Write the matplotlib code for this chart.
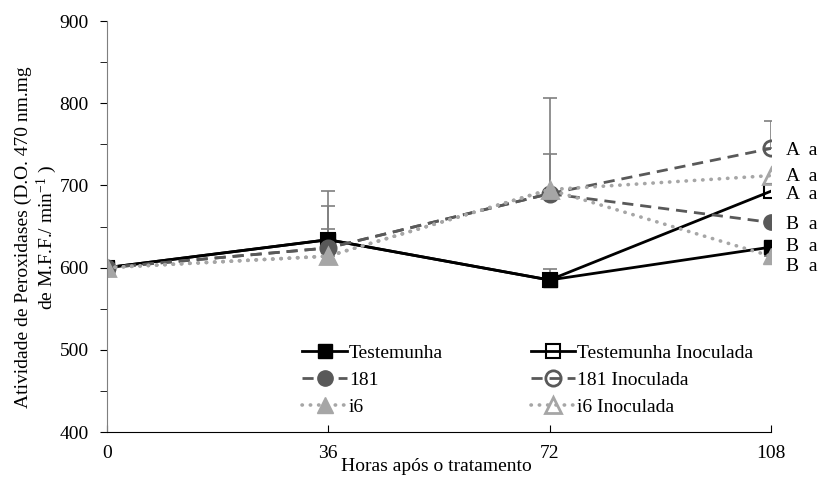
import numpy as np
import matplotlib
matplotlib.use('Agg')
import matplotlib.pyplot as plt

# data
horas = [0, 36, 72, 108]
testemunha = [600, 634, 585, 625]
s181 = [600, 624, 690, 655]
i6 = [600, 614, 695, 614]
testemunha_inoc = [600, 634, 585, 693]
s181_inoc = [600, 624, 690, 745]
i6_inoc = [600, 614, 695, 712]

# upper error bars only
err_testemunha = [0, 13, 13, 0]
err_181 = [0, 51, 48, 0]
err_i6 = [0, 79, 111, 0]
err_181_inoc = [0, 0, 0, 33]

letras = ['A  a', 'A  a', 'A  a', 'B  a', 'B  a', 'B  a']
letras_y = [743, 711, 689, 652, 626, 601]

plt.rcParams['font.family'] = ['Liberation Serif', 'DejaVu Serif']
plt.rcParams['font.size'] = 14
plt.rcParams['mathtext.fontset'] = 'custom'
plt.rcParams['mathtext.rm'] = 'Liberation Serif'
plt.rcParams['mathtext.it'] = 'Liberation Serif:italic'

PRETO = 'black'
ESCURO = '#595959'
CLARO = '#a6a6a6'


def main():
    fig = plt.figure(figsize=(8.21, 4.79), dpi=100)
    ax = fig.add_axes([0.130, 0.098, 0.809, 0.858])

    ebkw = dict(ecolor='#7f7f7f', elinewidth=1.2, capsize=5, capthick=1.2)
    zero = [0, 0, 0, 0]

    ax.errorbar(horas, i6, yerr=[zero, err_i6], fmt='none', **ebkw)
    ax.errorbar(horas, s181, yerr=[zero, err_181], fmt='none', **ebkw)
    ax.errorbar(horas, testemunha, yerr=[zero, err_testemunha], fmt='none',
                **ebkw)
    ax.errorbar(horas, s181_inoc, yerr=[zero, err_181_inoc], fmt='none',
                **ebkw)

    dash = (0, (4, 2.5))
    dot = (0, (0.1, 2.2))

    l1, = ax.plot(horas, testemunha, '-', color=PRETO, lw=2, marker='s',
                  ms=10, mfc=PRETO, mec=PRETO, label='Testemunha')
    l2, = ax.plot(horas, testemunha_inoc, '-', color=PRETO, lw=2,
                  marker='s', ms=10, mfc='none', mec=PRETO, mew=1.5,
                  label='Testemunha Inoculada')
    l3, = ax.plot(horas, s181, color=ESCURO, lw=2, ls=dash, marker='o',
                  ms=11, mfc=ESCURO, mec=ESCURO, label='181')
    l4, = ax.plot(horas, s181_inoc, color=ESCURO, lw=2, ls=dash, marker='o',
                  ms=11, mfc='none', mec=ESCURO, mew=2, label='181 Inoculada')
    l5, = ax.plot(horas, i6, color=CLARO, lw=2.6, ls=dot,
                  dash_capstyle='round', marker='^', ms=11, mfc=CLARO,
                  mec=CLARO, label='i6')
    l6, = ax.plot(horas, i6_inoc, color=CLARO, lw=2.6, ls=dot,
                  dash_capstyle='round', marker='^', ms=11, mfc='none',
                  mec=CLARO, mew=2, label='i6 Inoculada')

    for txt, yy in zip(letras, letras_y):
        ax.annotate(txt, xy=(108, yy), xytext=(11, 0),
                    textcoords='offset points', va='center', ha='left',
                    annotation_clip=False)

    ax.set_xlim(0, 108)
    ax.set_ylim(400, 900)
    ax.set_xticks([0, 36, 72, 108])
    ax.set_yticks(np.arange(400, 901, 100))
    ax.set_yticks(np.arange(450, 900, 100), minor=True)
    ax.tick_params(axis='x', direction='in', length=5, pad=9)
    ax.tick_params(axis='y', direction='out', length=5, which='both', pad=8)
    for s in ['top', 'right']:
        ax.spines[s].set_visible(False)
    ax.spines['left'].set_color('#7f7f7f')
    ax.spines['bottom'].set_color(PRETO)

    ax.set_xlabel('Horas após o tratamento')
    ax.xaxis.set_label_coords(0.497, -0.062)
    ax.set_ylabel('Atividade de Peroxidases (D.O. 470 nm.mg\n'
                  'de M.F.F./ min$^{-1}$ )', linespacing=1.15)
    ax.yaxis.set_label_coords(-0.072, 0.475)

    ax.legend([l1, l3, l5, l2, l4, l6],
              ['Testemunha', '181', 'i6', 'Testemunha Inoculada',
               '181 Inoculada', 'i6 Inoculada'],
              ncol=2, frameon=False, loc='lower left',
              bbox_to_anchor=(0.28, 0.015), handlelength=2.3,
              handletextpad=0.1, columnspacing=4.5, labelspacing=0.5,
              borderpad=0)

    fig.savefig('out.png', dpi=100)


if __name__ == '__main__':
    main()
